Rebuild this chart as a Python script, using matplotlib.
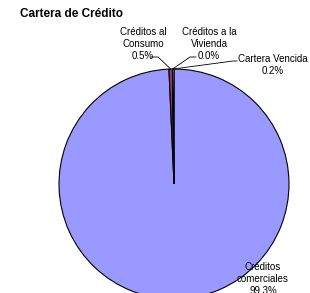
import matplotlib
matplotlib.use("Agg")
import matplotlib.pyplot as plt
import numpy as np

plt.rcParams['font.family'] = ['Liberation Sans', 'DejaVu Sans']

categories = ["Créditos\ncomerciales", "Créditos al\nConsumo", "Créditos a la\nVivienda", "Cartera Vencida"]
values = [99.3, 0.5, 0.0, 0.2]
colors = ["#9999FF", "#993366", "#FFFFCC", "#CCFFFF"]

W, H = 310, 293
fig = plt.figure(figsize=(W / 100, H / 100), dpi=100)
cx, cy, r = 174, 184, 115
ax = fig.add_axes([(cx - r) / W, (H - cy - r) / H, 2 * r / W, 2 * r / H])
ax.axis('off')

wedges, _ = ax.pie(values, colors=colors, startangle=90, counterclock=False, radius=1,
                   wedgeprops=dict(edgecolor='black', linewidth=0.8), frame=False)
ax.set_xlim(-1, 1)
ax.set_ylim(-1, 1)

fig.text(20 / W, 1 - 14 / H, "Cartera de Crédito", fontsize=8.5, fontweight='bold', va='center', ha='left')

def px(x, y):
    return (x / W, 1 - y / H)

# label block centres (pixels) and leader line start/elbow points (pixels)
labels = [
    (263, 279, None),
    (143, 44, [(151, 57), (158, 57)]),
    (209, 44, [(196, 57), (190, 57)]),
    (273, 65, [(237, 61), (233, 61)]),
]
total = sum(values)
cum = 0
for (name, v, (lx, ly, pts)) in zip(categories, values, labels):
    mid = 90 - 360 * (cum + v / 2) / total
    cum += v
    txt = f"{name}\n{v:.1f}%"
    fig.text(*px(lx, ly), txt, fontsize=7, ha='center', va='center', linespacing=1.2)
    if pts is not None:
        ex, ey = np.cos(np.radians(mid)), np.sin(np.radians(mid))
        disp = ax.transData.transform((ex, ey))
        fx, fy = fig.transFigure.inverted().transform(disp)
        xs = [px(*p)[0] for p in pts] + [fx]
        ys = [px(*p)[1] for p in pts] + [fy]
        fig.add_artist(plt.Line2D(xs, ys, transform=fig.transFigure, color='black', lw=0.6))

fig.savefig("out.png", dpi=100)
